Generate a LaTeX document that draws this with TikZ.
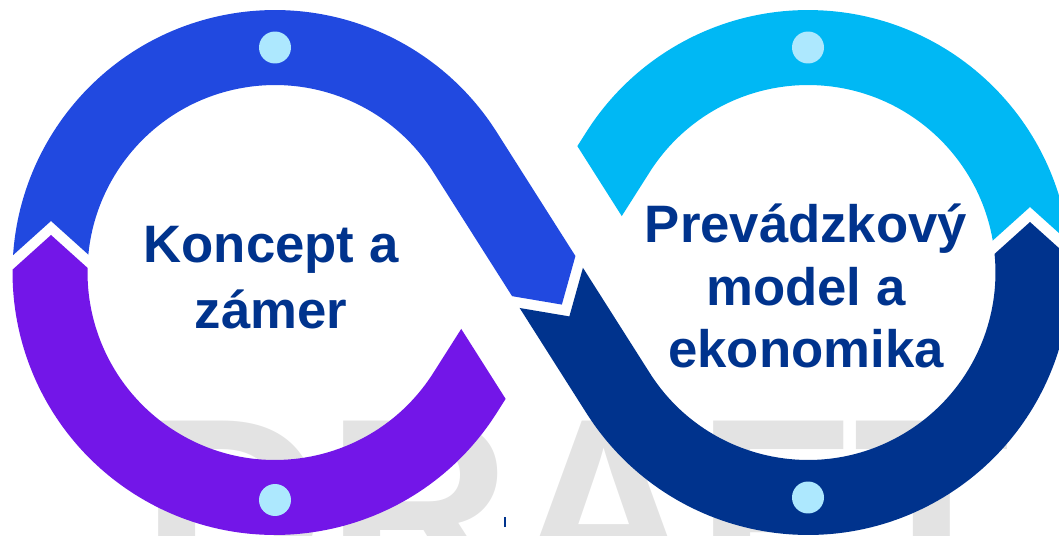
\documentclass[tikz,border=0pt]{standalone}
\usepackage{fontspec}
\setmainfont{Liberation Sans}
\usetikzlibrary{calc}

\definecolor{loopblue}{HTML}{2149E0}
\definecolor{loopviolet}{HTML}{7316E8}
\definecolor{loopcyan}{HTML}{00B8F4}
\definecolor{loopnavy}{HTML}{00338D}
\definecolor{loopdot}{HTML}{ADE8FE}
\definecolor{draftgray}{HTML}{E3E3E3}

\begin{document}
\begin{tikzpicture}[x=0.02cm, y=0.02cm]
    \tikzstyle{band} = [line width=1.5cm]
    \tikzstyle{dotmark} = [circle, fill=loopdot, minimum size=0.64cm, inner sep=0pt]
    \tikzstyle{looptext} = [text=loopnavy, align=center, inner sep=0pt]

    \useasboundingbox (0,0) rectangle (1059,535);
    \clip (0,0) rectangle (1059,535);

    \coordinate (lc) at (275,262.5);
    \coordinate (rc) at (808,262.5);
    \coordinate (mid) at (541.5,262.5);
    \coordinate (bluetip) at ($(mid)+(-57.6:38)$);
    \coordinate (navytip) at ($(mid)+(-57.6:52)$);

    \node [anchor=base west, inner sep=0pt, text=draftgray, font=\bfseries\fontsize{146}{146}\selectfont] (draft) at (141,-62) {DRAFT};

    \begin{scope}[even odd rule]
        \clip (-50,-50) rectangle (1150,600)
            (-9,260) -- (51,314) -- (111,260) -- (111,150) -- (-9,150) -- cycle
            (bluetip) -- ($(bluetip)+(74.4:81)$) -- ($(bluetip)+(74.4:81)+(-57.6:150)$) -- ($(bluetip)+(170.4:81)+(-57.6:150)$) -- ($(bluetip)+(170.4:81)$) -- cycle;
        \draw [band, loopblue] ($(lc)+(190:4.5cm)$) arc [start angle=190, end angle=32.4, radius=4.5cm] -- ($(mid)+(-57.6:70)$);
    \end{scope}

    \begin{scope}[even odd rule]
        \clip (-50,-50) rectangle (1150,600)
            (navytip) -- ($(navytip)+(74.4:81)$) -- ($(navytip)+(74.4:81)+(122.4:150)$) -- ($(navytip)+(170.4:81)+(122.4:150)$) -- ($(navytip)+(170.4:81)$) -- cycle
            (970,259) -- (1030,313) -- (1090,259) -- (1090,420) -- (970,420) -- cycle;
        \draw [band, loopnavy] ($(mid)+(122.4:40)$) -- ($(rc)+(212.4:4.5cm)$) arc [start angle=212.4, end angle=375, radius=4.5cm];
    \end{scope}

    \begin{scope}[even odd rule]
        \clip (-50,-50) rectangle (1150,600)
            ($(mid)+(32.4:98)+(-57.6:200)$) -- ($(mid)+(32.4:98)+(122.4:200)$) -- ($(mid)+(212.4:98)+(122.4:200)$) -- ($(mid)+(212.4:98)+(-57.6:200)$) -- cycle
            (970,274) -- (1030,328) -- (1090,274) -- (1090,150) -- (970,150) -- cycle;
        \draw [band, loopcyan] ($(rc)+(0:4.5cm)$) arc [start angle=0, end angle=147.6, radius=4.5cm] -- (mid);
    \end{scope}

    \begin{scope}[even odd rule]
        \clip (-50,-50) rectangle (1150,600)
            ($(mid)+(32.4:98)+(-57.6:200)$) -- ($(mid)+(32.4:98)+(122.4:200)$) -- ($(mid)+(212.4:98)+(122.4:200)$) -- ($(mid)+(212.4:98)+(-57.6:200)$) -- cycle
            (-9,246) -- (51,300) -- (111,246) -- (111,400) -- (-9,400) -- cycle;
        \draw [band, loopviolet] (mid) -- ($(lc)+(-32.4:4.5cm)$) arc [start angle=-32.4, end angle=-195, radius=4.5cm];
    \end{scope}

    \node [dotmark] (dot1) at (275,487.5) {};
    \node [dotmark] (dot2) at (275,35) {};
    \node [dotmark] (dot3) at (808,487.5) {};
    \node [dotmark] (dot4) at (808,37.5) {};

    \node [looptext, font=\bfseries\fontsize{30}{37.5}\selectfont] (concept) at (271,257) {Koncept a\\zámer};
    \node [looptext, font=\bfseries\fontsize{30}{35.5}\selectfont] (model) at (806,249) {Prevádzkový\\model a\\ekonomika};

    \draw [loopnavy, line width=0.04cm] (505,8) -- (505,18);

\end{tikzpicture}
\end{document}
